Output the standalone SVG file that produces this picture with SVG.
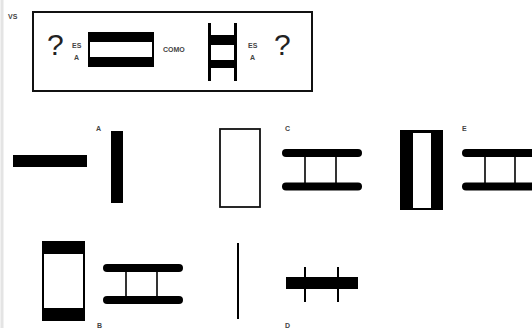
<svg xmlns="http://www.w3.org/2000/svg" width="532" height="328" viewBox="0 0 532 328">
<style>
.lbl{font-family:"Liberation Sans",Arial,sans-serif;font-size:7px;font-weight:bold;fill:#444}
.q{font-family:"Liberation Sans",Arial,sans-serif;font-size:30px;fill:#222}
.bar{stroke:#000;stroke-width:8;stroke-linecap:round}
.rung{stroke:#000;stroke-width:1.6}
</style>
<rect width="532" height="328" fill="#fff"/>
<line x1="2" y1="0" x2="2" y2="328" stroke="#e4e4e4" stroke-width="3"/>
<g id="question">
<text class="lbl" x="8" y="19" font-size="6">VS</text>
<rect x="33" y="12" width="279" height="79" fill="none" stroke="#111" stroke-width="2"/>
<text class="q" x="47" y="55">?</text>
<text class="lbl" x="72" y="48" font-size="6">ES</text>
<text class="lbl" x="74" y="60" font-size="6">A</text>
<rect x="88" y="32" width="66" height="35" fill="#000"/>
<rect x="90" y="42" width="62" height="15" fill="#fff"/>
<text class="lbl" x="163" y="52" font-size="6">COMO</text>
<line x1="209.5" y1="23" x2="209.5" y2="81" stroke="#000" stroke-width="3"/>
<line x1="235.5" y1="23" x2="235.5" y2="81" stroke="#000" stroke-width="3"/>
<rect x="209" y="35" width="27" height="10" fill="#000"/>
<rect x="209" y="60" width="27" height="8" fill="#000"/>
<text class="lbl" x="248" y="48" font-size="6">ES</text>
<text class="lbl" x="250" y="60" font-size="6">A</text>
<text class="q" x="274" y="55">?</text>
</g>
<g id="optA">
<rect x="13" y="155" width="74" height="12" fill="#000"/>
<text class="lbl" x="96" y="131">A</text>
<rect x="111" y="131" width="12" height="72" fill="#000"/>
</g>
<g id="optC">
<rect x="220" y="129" width="40" height="78" fill="none" stroke="#111" stroke-width="1.8"/>
<text class="lbl" x="285" y="131">C</text>
<line class="rung" x1="305" y1="153" x2="305" y2="186"/>
<line class="rung" x1="336" y1="153" x2="336" y2="186"/>
<line class="bar" x1="286" y1="153" x2="358" y2="153"/>
<line class="bar" x1="286" y1="186.5" x2="358" y2="186.5"/>
</g>
<g id="optE">
<rect x="400" y="130" width="43" height="80" fill="#000"/>
<rect x="413" y="133" width="18" height="75" fill="#fff"/>
<text class="lbl" x="462" y="131">E</text>
<line class="rung" x1="485" y1="153" x2="485" y2="186"/>
<line class="rung" x1="515" y1="153" x2="515" y2="186"/>
<line class="bar" x1="466" y1="153" x2="540" y2="153"/>
<line class="bar" x1="466" y1="186.5" x2="540" y2="186.5"/>
</g>
<g id="optB">
<rect x="42" y="241" width="43" height="80" fill="#000"/>
<rect x="44" y="254" width="39" height="54" fill="#fff"/>
<line class="rung" x1="126" y1="268" x2="126" y2="300"/>
<line class="rung" x1="157" y1="268" x2="157" y2="300"/>
<line class="bar" x1="107" y1="268" x2="179" y2="268"/>
<line class="bar" x1="107" y1="300" x2="179" y2="300"/>
<text class="lbl" x="97" y="328">B</text>
</g>
<g id="optD">
<line x1="238" y1="243" x2="238" y2="319" stroke="#000" stroke-width="2"/>
<rect x="286" y="277" width="72" height="12" fill="#000"/>
<line x1="305" y1="267" x2="305" y2="302" stroke="#000" stroke-width="2"/>
<line x1="338" y1="267" x2="338" y2="302" stroke="#000" stroke-width="2"/>
<text class="lbl" x="285" y="328">D</text>
</g>
</svg>
